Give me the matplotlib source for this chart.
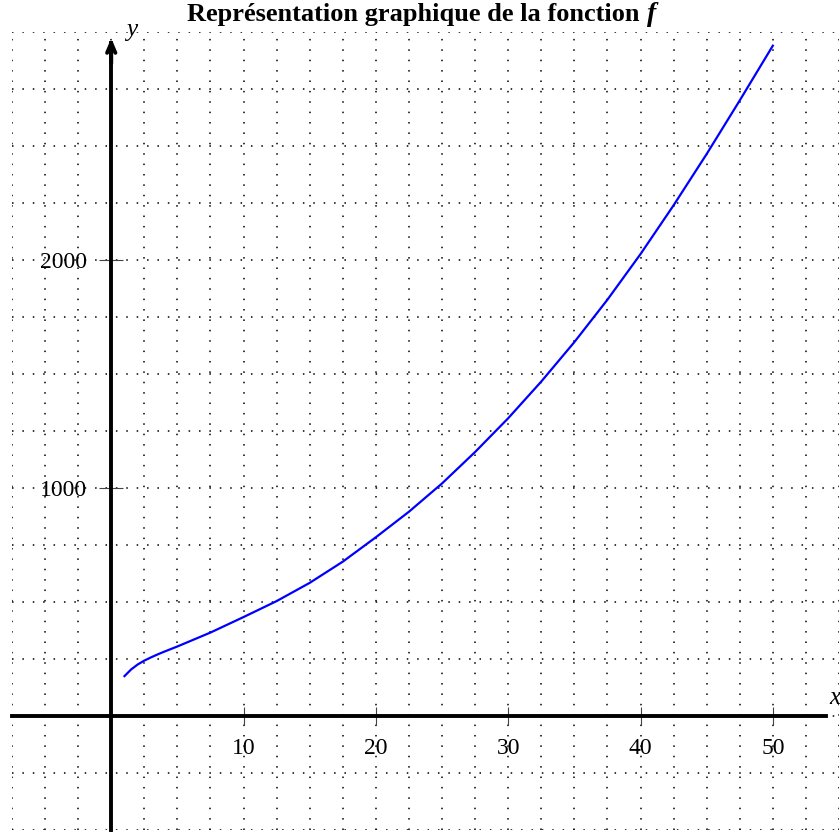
import numpy as np
import matplotlib.pyplot as plt
from matplotlib.ticker import MultipleLocator, FixedLocator

# valeurs
x_vals = [1, 1.5, 2, 2.5, 3, 3.5, 4, 5, 7.5, 10, 12.5, 15, 17.5, 20, 22.5, 25,
          27.5, 30, 32.5, 35, 37.5, 40, 42.5, 45, 47.5, 50]
y_vals = [175, 204, 226, 243, 257, 270, 282, 305, 366, 434, 504, 584, 677, 784, 896, 1020,
          1158, 1306, 1467, 1640, 1826, 2026, 2240, 2465, 2700, 2940]

x_ticks = [10, 20, 30, 40, 50]
y_ticks = [1000, 2000]
titre = u"Représentation graphique de la fonction"

plt.rcParams['font.family'] = ['Liberation Serif', 'DejaVu Serif']

fig = plt.figure(figsize=(8.4, 8.33), dpi=100)
ax = fig.add_axes([12 / 840, 3 / 833, 827 / 840, 798 / 833])
ax.set_xlim(-7.5, 55)
ax.set_ylim(-500, 3000)

# grille pointillée
ax.xaxis.set_minor_locator(MultipleLocator(2.5))
ax.yaxis.set_minor_locator(MultipleLocator(250))
ax.xaxis.set_major_locator(FixedLocator(x_ticks))
ax.yaxis.set_major_locator(FixedLocator(y_ticks))
ax.grid(True, which='both', color='black', linewidth=1.1,
        linestyle=(0, (1, 5.8)))
ax.set_axisbelow(True)

# axes qui passent par l'origine
for s in ['top', 'right']:
    ax.spines[s].set_visible(False)
ax.spines['left'].set_position(('data', 0))
ax.spines['bottom'].set_position(('data', 0))
ax.spines['left'].set_linewidth(2.8)
ax.spines['bottom'].set_linewidth(2.8)
ax.spines['left'].set_bounds(-500, 2950)
ax.spines['bottom'].set_bounds(-7.5, 54)
ax.annotate('', xy=(55.1, 0), xytext=(53, 0),
            arrowprops=dict(arrowstyle='->,head_length=0.7,head_width=0.3', lw=2.8, color='black'))
ax.annotate('', xy=(0, 2985), xytext=(0, 2850),
            arrowprops=dict(arrowstyle='->,head_length=0.7,head_width=0.3', lw=2.8, color='black'))

ax.tick_params(axis='x', which='major', direction='inout', length=13, width=0.8,
               color='#444444', pad=9, labelsize=17)
ax.tick_params(axis='y', which='major', direction='inout', length=17, width=0.8,
               color='#444444', pad=9, labelsize=17)
ax.tick_params(which='minor', length=0)

ax.plot(x_vals, y_vals, color='blue', linewidth=1.6)

ax.text(1.1, 3008, 'y', fontsize=18, fontstyle='italic', ha='left', va='center')
ax.text(54.25, 80, 'x', fontsize=18, fontstyle='italic', ha='left', va='center')

# titre en gras, f en italique gras
t = fig.text(0.5 - 3 / 840, 0.983, titre + ' ', fontsize=19, fontweight='bold',
             ha='center', va='center')
fig.canvas.draw()
bb = t.get_window_extent()
fig.text(bb.x1 / 840, 0.983, 'f', fontsize=20, fontweight='bold', fontstyle='italic',
         ha='left', va='center')

fig.savefig('out.png', dpi=100)
